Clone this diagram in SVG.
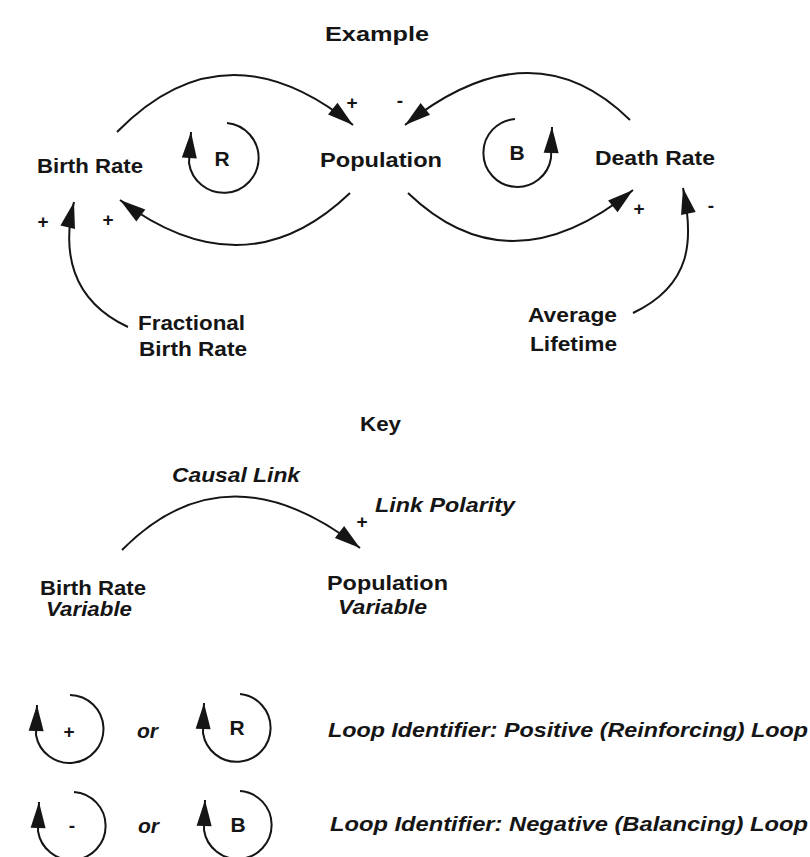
<svg xmlns="http://www.w3.org/2000/svg" width="810" height="857" viewBox="0 0 810 857">
<style>
.t{font-family:"Liberation Sans",Arial,Helvetica,sans-serif;font-size:21px;font-weight:bold;fill:#151515}
.i{font-style:italic}
.s{font-size:19px;text-anchor:middle}
.m{text-anchor:middle}
.c{stroke:#151515;stroke-width:2;fill:none}
</style>
<defs>
<marker id="ah" markerUnits="userSpaceOnUse" markerWidth="30" markerHeight="20" viewBox="-28 -10 30 20" refX="0" refY="0" orient="auto">
<path d="M0,0 L-26,-7.5 L-26,7.5 Z" fill="#151515"/>
</marker>
</defs>
<rect width="810" height="857" fill="#ffffff"/>

<g id="connectors">
<path class="c" d="M117,132 Q225,21.5 353,125" marker-end="url(#ah)"/>
<path class="c" d="M630,120 Q532,23.5 405,125" marker-end="url(#ah)"/>
<path class="c" d="M350,193 Q245,293.5 120,200" marker-end="url(#ah)"/>
<path class="c" d="M408,193 Q509.5,290.5 633,190" marker-end="url(#ah)"/>
<path class="c" d="M128,327 C70,300 62,250 74,202" marker-end="url(#ah)"/>
<path class="c" d="M633,313 C692,285 694,240 683,188" marker-end="url(#ah)"/>
<path class="c" d="M122,550 Q227,444 360,548" marker-end="url(#ah)"/>
</g>

<g id="loop-R">
<path class="c" d="M227,123 A35,35 0 1 1 189,163 L191,132" marker-end="url(#ah)"/>
<text class="t m" x="222" y="166">R</text>
</g>
<g id="loop-B">
<path class="c" d="M515,119 A34,34 0 1 0 551,158 L552,127" marker-end="url(#ah)"/>
<text class="t m" x="517" y="160">B</text>
</g>

<g id="title-example"><text class="t" x="325" y="41" font-size="23" textLength="104" lengthAdjust="spacingAndGlyphs">Example</text></g>
<g id="node-birth-rate"><text class="t" x="37" y="173" textLength="106" lengthAdjust="spacingAndGlyphs">Birth Rate</text></g>
<g id="node-population"><text class="t" x="320" y="167" textLength="122" lengthAdjust="spacingAndGlyphs">Population</text></g>
<g id="node-death-rate"><text class="t" x="595" y="165" textLength="120" lengthAdjust="spacingAndGlyphs">Death Rate</text></g>
<g id="node-fractional-birth-rate">
<text class="t" x="138" y="330" textLength="107" lengthAdjust="spacingAndGlyphs">Fractional</text>
<text class="t" x="139" y="356" textLength="108" lengthAdjust="spacingAndGlyphs">Birth Rate</text>
</g>
<g id="node-average-lifetime">
<text class="t" x="528" y="322" textLength="89" lengthAdjust="spacingAndGlyphs">Average</text>
<text class="t" x="530" y="351" textLength="87" lengthAdjust="spacingAndGlyphs">Lifetime</text>
</g>

<g id="polarities">
<text class="t s" x="352" y="109">+</text>
<text class="t s" x="400" y="107">-</text>
<text class="t s" x="43" y="228">+</text>
<text class="t s" x="108" y="226">+</text>
<text class="t s" x="639" y="215">+</text>
<text class="t s" x="711" y="212">-</text>
</g>

<g id="key-title"><text class="t" x="360" y="431" textLength="41" lengthAdjust="spacingAndGlyphs">Key</text></g>
<g id="key-causal-link"><text class="t i" x="172" y="482" textLength="128" lengthAdjust="spacingAndGlyphs">Causal Link</text></g>
<g id="key-link-polarity">
<text class="t s" x="362" y="528">+</text>
<text class="t i" x="375" y="512" textLength="140" lengthAdjust="spacingAndGlyphs">Link Polarity</text>
</g>
<g id="key-birth-rate">
<text class="t" x="40" y="595" textLength="106" lengthAdjust="spacingAndGlyphs">Birth Rate</text>
<text class="t i" x="46" y="616" textLength="86" lengthAdjust="spacingAndGlyphs">Variable</text>
</g>
<g id="key-population">
<text class="t" x="327" y="590" textLength="121" lengthAdjust="spacingAndGlyphs">Population</text>
<text class="t i" x="338" y="614" textLength="89" lengthAdjust="spacingAndGlyphs">Variable</text>
</g>

<g id="key-loop-positive">
<path class="c" d="M70,695 A34,34 0 1 1 36,735 L37,705" marker-end="url(#ah)"/>
<text class="t s" x="69" y="738">+</text>
<text class="t i" x="137" y="738" textLength="21" lengthAdjust="spacingAndGlyphs">or</text>
<path class="c" d="M240,694 A34,34 0 1 1 203,733 L204,703" marker-end="url(#ah)"/>
<text class="t m" x="237" y="735">R</text>
<text class="t i" x="328" y="737" textLength="480" lengthAdjust="spacingAndGlyphs">Loop Identifier: Positive (Reinforcing) Loop</text>
</g>
<g id="key-loop-negative">
<path class="c" d="M74,792 A34,34 0 1 1 38,831 L39,802" marker-end="url(#ah)"/>
<text class="t s" x="72" y="832">-</text>
<text class="t i" x="138" y="833" textLength="21" lengthAdjust="spacingAndGlyphs">or</text>
<path class="c" d="M240,791 A34,34 0 1 1 204,830 L205,800" marker-end="url(#ah)"/>
<text class="t m" x="238" y="832">B</text>
<text class="t i" x="330" y="831" textLength="478" lengthAdjust="spacingAndGlyphs">Loop Identifier: Negative (Balancing) Loop</text>
</g>
</svg>
